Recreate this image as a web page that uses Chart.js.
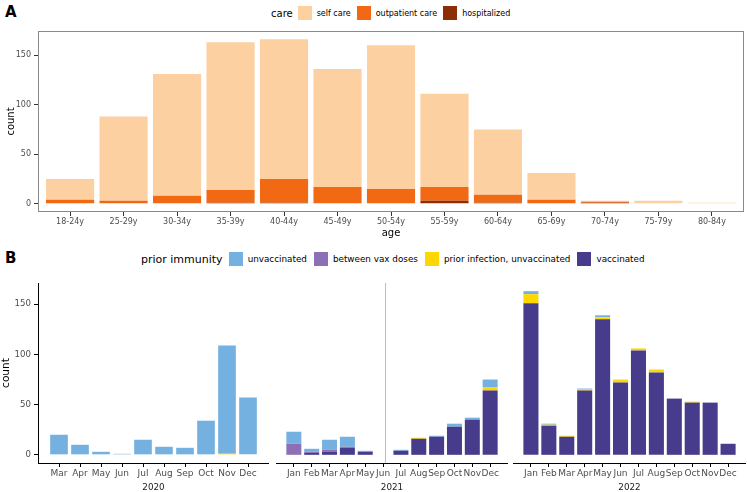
<!DOCTYPE html>
<html lang="en">
<head>
<meta charset="UTF-8">
<title>Cases by care and prior immunity</title>
<script src="https://cdn.jsdelivr.net/npm/chart.js"></script>
<style>
    body {
        margin: 0;
        width: 747px;
        height: 492px;
        overflow: hidden;
        background: #fff;
        position: relative;
        font-family: 'DejaVu Sans', sans-serif;
    }
    canvas { position: absolute; }
    .tag { position: absolute; left: 5px; font-weight: bold; font-size: 15px; line-height: 1; }
    .legend { position: absolute; display: flex; align-items: center; white-space: nowrap; height: 16px; color: #000; }
    .legend .key { width: 14px; height: 14px; margin-right: 5px; }
</style>
</head>
<body>
<div class="tag" style="top:5px">A</div>
<div class="legend" id="legendA" style="left:271px; top:5px"></div>
<canvas id="chartA" width="747" height="216" style="left:0; top:24px"></canvas>

<div class="tag" style="top:251px">B</div>
<div class="legend" id="legendB" style="left:141px; top:251px"></div>
<canvas id="c2020" width="269" height="215" style="left:0; top:280px"></canvas>
<canvas id="c2021" width="232" height="215" style="left:276px; top:280px"></canvas>
<canvas id="c2022" width="233" height="215" style="left:513px; top:280px"></canvas>

<script>
// panel A: care by age group
const ageGroups = ['18-24y', '25-29y', '30-34y', '35-39y', '40-44y', '45-49y', '50-54y',
                   '55-59y', '60-64y', '65-69y', '70-74y', '75-79y', '80-84y'];
const selfCare       = [21, 85, 123, 149, 141, 119, 145, 94, 66, 27, 1, 3, 1];
const outpatientCare = [4, 3, 8, 13, 24, 17, 15, 14, 8, 4, 1, 0, 0];
const hospitalized   = [0, 0, 0, 1, 1, 0, 0, 3, 1, 0, 1, 0, 0];
const careLabels = ['self care', 'outpatient care', 'hospitalized'];
const careColors = ['#FDD0A2', '#F16913', '#8C2D04'];

// panel B: prior immunity by month, one facet per year
const months2020 = ['Mar', 'Apr', 'May', 'Jun', 'Jul', 'Aug', 'Sep', 'Oct', 'Nov', 'Dec'];
const months = ['Jan', 'Feb', 'Mar', 'Apr', 'May', 'Jun', 'Jul', 'Aug', 'Sep', 'Oct', 'Nov', 'Dec'];

const unvacc2020  = [20, 10, 3, 1, 15, 8, 7, 34, 108, 57];
const between2020 = [0, 0, 0, 0, 0, 0, 0, 0, 0, 0];
const prior2020   = [0, 0, 0, 0, 0, 0, 0, 0, 1, 0];
const vacc2020    = [0, 0, 0, 0, 0, 0, 0, 0, 0, 0];

const unvacc2021  = [12, 3, 10, 10, 1, 0, 1, 0, 1, 3, 2, 8];
const between2021 = [11, 1, 2, 1, 0, 0, 0, 0, 0, 0, 0, 0];
const prior2021   = [0, 0, 0, 0, 0, 0, 0, 1, 0, 0, 0, 3];
const vacc2021    = [0, 2, 3, 7, 3, 0, 4, 16, 18, 28, 35, 64];

const unvacc2022  = [3, 1, 0, 1, 2, 0, 0, 0, 0, 0, 0, 0];
const between2022 = [0, 0, 0, 0, 0, 0, 0, 0, 0, 0, 0, 0];
const prior2022   = [9, 1, 1, 1, 2, 3, 2, 3, 0, 1, 0, 0];
const vacc2022    = [151, 29, 18, 64, 135, 72, 104, 82, 56, 52, 52, 11];

const immunityLabels = ['unvaccinated', 'between vax doses', 'prior infection, unvaccinated', 'vaccinated'];
const immunityColors = ['#74B1E0', '#8C6FB5', '#FFD700', '#473B8B'];

const countTicks = [0, 50, 100, 150];
// reference line in 2021 (month position)
const vlinePos2021 = 6.12;

Chart.defaults.font.family = "'DejaVu Sans', sans-serif";
Chart.defaults.animation = false;

function buildLegend(id, title, labels, colors, titleSize, itemSize, gap) {
    const el = document.getElementById(id);
    let html = '<span style="font-size:' + titleSize + 'px; margin-right:' + (gap - 1) + 'px">' + title + '</span>';
    labels.forEach((l, i) => {
        html += '<span class="key" style="background:' + colors[i] + '"></span>' +
                '<span style="font-size:' + itemSize + 'px; margin-right:' + gap + 'px">' + l + '</span>';
    });
    el.innerHTML = html;
}
buildLegend('legendA', 'care', careLabels, careColors, 10, 8, 6);
buildLegend('legendB', 'prior immunity', immunityLabels, immunityColors, 11, 8.8, 7);

function points(values) {
    return values.map((v, i) => ({ x: i + 1, y: v }));
}

const panelBorder = {
    id: 'panelBorder',
    afterDraw(chart) {
        const { ctx, chartArea: a } = chart;
        ctx.save();
        ctx.strokeStyle = '#8a8a8a';
        ctx.lineWidth = 1;
        ctx.strokeRect(Math.round(a.left) + 0.5, Math.round(a.top) + 0.5,
                       Math.round(a.right - a.left) - 1, Math.round(a.bottom - a.top) - 1);
        ctx.restore();
    }
};

// chart A
new Chart(document.getElementById('chartA'), {
    type: 'bar',
    data: {
        datasets: [
            { label: careLabels[2], data: points(hospitalized), backgroundColor: careColors[2] },
            { label: careLabels[1], data: points(outpatientCare), backgroundColor: careColors[1] },
            { label: careLabels[0], data: points(selfCare), backgroundColor: careColors[0] }
        ]
    },
    options: {
        responsive: false,
        maintainAspectRatio: false,
        layout: { padding: { top: 7, right: 3, left: 0, bottom: 0 } },
        datasets: { bar: { barPercentage: 0.9, categoryPercentage: 1, borderWidth: 0 } },
        plugins: { legend: { display: false }, tooltip: { enabled: false } },
        scales: {
            x: {
                type: 'linear', stacked: true, offset: false,
                min: 0.4, max: ageGroups.length + 0.6,
                afterBuildTicks: s => { s.ticks = ageGroups.map((_, i) => ({ value: i + 1 })); },
                afterFit: s => { s.height = 28; },
                ticks: {
                    autoSkip: false, maxRotation: 0, padding: 1,
                    color: '#4d4d4d', font: { size: 8 },
                    callback: v => ageGroups[v - 1]
                },
                grid: { display: true, drawOnChartArea: false, drawTicks: true, tickLength: 4, color: '#333', offset: false },
                border: { display: false },
                title: { display: true, text: 'age', color: '#000', font: { size: 10 }, padding: { top: 0, bottom: 1 } }
            },
            y: {
                stacked: true, min: -8.3, max: 174.3,
                afterBuildTicks: s => { s.ticks = countTicks.map(v => ({ value: v })); },
                afterFit: s => { s.width = 38; s.paddingTop = 0; s.paddingBottom = 0; },
                ticks: { padding: 3, color: '#4d4d4d', font: { size: 8 } },
                grid: { display: true, drawOnChartArea: false, drawTicks: true, tickLength: 4, color: '#333' },
                border: { display: false },
                title: { display: true, text: 'count', color: '#000', font: { size: 10 }, padding: { top: 5, bottom: 0 } }
            }
        }
    },
    plugins: [panelBorder]
});

// chart B facets
const vline = {
    id: 'vline',
    beforeDatasetsDraw(chart, args, opts) {
        if (opts.value == null) return;
        const { ctx, chartArea: a, scales } = chart;
        const x = Math.round(scales.x.getPixelForValue(opts.value)) + 0.5;
        ctx.save();
        ctx.strokeStyle = '#bdbdbd';
        ctx.lineWidth = 1;
        ctx.beginPath();
        ctx.moveTo(x, a.top);
        ctx.lineTo(x, a.bottom);
        ctx.stroke();
        ctx.restore();
    }
};

function makeFacet(id, year, labels, unvacc, between, prior, vacc, showY, vlineAt) {
    new Chart(document.getElementById(id), {
        type: 'bar',
        data: {
            datasets: [
                { label: immunityLabels[3], data: points(vacc), backgroundColor: immunityColors[3] },
                { label: immunityLabels[2], data: points(prior), backgroundColor: immunityColors[2] },
                { label: immunityLabels[1], data: points(between), backgroundColor: immunityColors[1] },
                { label: immunityLabels[0], data: points(unvacc), backgroundColor: immunityColors[0] }
            ]
        },
        options: {
            responsive: false,
            maintainAspectRatio: false,
            layout: { padding: { top: 3, right: 0, left: 0, bottom: 0 } },
            datasets: { bar: { barPercentage: 0.84, categoryPercentage: 1, borderWidth: 0 } },
            plugins: { legend: { display: false }, tooltip: { enabled: false }, vline: { value: vlineAt } },
            scales: {
                x: {
                    type: 'linear', stacked: true, offset: false,
                    min: 0, max: labels.length + 1,
                    afterBuildTicks: s => { s.ticks = labels.map((_, i) => ({ value: i + 1 })); },
                    afterFit: s => { s.height = 32; s.paddingLeft = 0; s.paddingRight = 0; },
                    ticks: {
                        autoSkip: false, maxRotation: 0, padding: 1,
                        color: '#4d4d4d', font: { size: 9 },
                        callback: v => labels[v - 1]
                    },
                    grid: { display: true, drawOnChartArea: false, drawTicks: true, tickLength: 4, color: '#000', offset: false },
                    border: { display: true, color: '#000', width: 1 },
                    title: { display: true, text: year, color: '#1a1a1a', font: { size: 8.8 }, padding: { top: 0, bottom: 2 } }
                },
                y: {
                    display: showY,
                    stacked: true, min: -8.15, max: 171.15,
                    afterBuildTicks: s => { s.ticks = countTicks.map(v => ({ value: v })); },
                    afterFit: s => {
                        s.width = showY ? 38 : 0;
                        s.paddingTop = 0;
                        s.paddingBottom = 0;
                    },
                    ticks: { padding: 3, color: '#4d4d4d', font: { size: 8.6 } },
                    grid: { display: true, drawOnChartArea: false, drawTicks: true, tickLength: 4, color: '#000' },
                    border: { display: true, color: '#000', width: 1 },
                    title: { display: true, text: 'count', color: '#000', font: { size: 10.6 }, padding: { top: 0, bottom: 0 } }
                }
            }
        },
        plugins: [vline]
    });
}

makeFacet('c2020', '2020', months2020, unvacc2020, between2020, prior2020, vacc2020, true, null);
makeFacet('c2021', '2021', months, unvacc2021, between2021, prior2021, vacc2021, false, vlinePos2021);
makeFacet('c2022', '2022', months, unvacc2022, between2022, prior2022, vacc2022, false, null);
</script>
</body>
</html>
